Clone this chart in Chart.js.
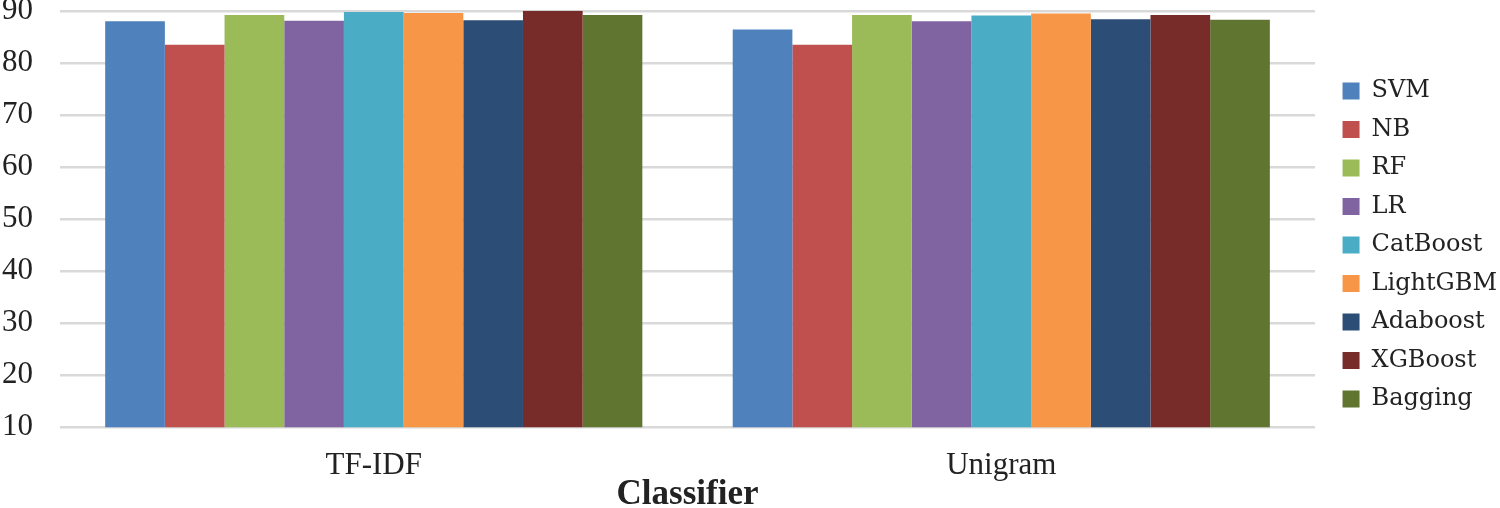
<!DOCTYPE html>
<html>
<head>
<meta charset="utf-8">
<script src="https://cdn.jsdelivr.net/npm/chart.js@4"></script>
<style>
  html, body { margin: 0; padding: 0; background: #fff; }
  #wrap { width: 1500px; height: 508px; position: relative; }
</style>
</head>
<body>
<div id="wrap"><canvas id="chart"></canvas></div>
<script>
const categories = ["TF-IDF", "Unigram"];
const svm      = [88.0, 86.4];
const nb       = [83.5, 83.5];
const rf       = [89.2, 89.2];
const lr       = [88.1, 88.0];
const catboost = [89.8, 89.1];
const lightgbm = [89.6, 89.5];
const adaboost = [88.2, 88.4];
const xgboost  = [90.0, 89.2];
const bagging  = [89.2, 88.3];

const series = [
  ["SVM", svm, "#4f81bd"],
  ["NB", nb, "#c0504d"],
  ["RF", rf, "#9bbb59"],
  ["LR", lr, "#8064a2"],
  ["CatBoost", catboost, "#4bacc6"],
  ["LightGBM", lightgbm, "#f79646"],
  ["Adaboost", adaboost, "#2c4d75"],
  ["XGBoost", xgboost, "#772c2a"],
  ["Bagging", bagging, "#5f7530"]
];

const serif = "'Liberation Serif', serif";

// nudge the legend a bit (right and up) like the original layout
const legendShift = {
  id: "legendShift",
  beforeLayout(chart) {
    const lg = chart.legend;
    if (!lg || lg._shifted) return;
    const draw = lg.draw;
    lg.draw = function (...args) {
      const c = this.ctx;
      c.save();
      c.translate(13, -9);
      draw.apply(this, args);
      c.restore();
    };
    lg._shifted = true;
  }
};

new Chart(document.getElementById("chart").getContext("2d"), {
  type: "bar",
  data: {
    labels: categories,
    datasets: series.map(([label, data, color]) => ({
      label,
      data,
      backgroundColor: color,
      borderWidth: 0,
      barPercentage: 1,
      categoryPercentage: 0.856
    }))
  },
  options: {
    responsive: true,
    maintainAspectRatio: false,
    animation: false,
    layout: { padding: { top: 0, right: 6, left: 2, bottom: 0 } },
    scales: {
      x: {
        grid: { display: false, drawTicks: false },
        border: { display: false },
        ticks: { color: "#222", font: { family: serif, size: 31 }, padding: 20 },
        title: {
          display: true,
          text: "Classifier",
          color: "#222",
          font: { family: serif, size: 35, weight: "bold", lineHeight: 0.6 },
          padding: { top: -20, bottom: 2.5 }
        }
      },
      y: {
        min: 10,
        max: 90,
        ticks: { stepSize: 10, color: "#222", font: { family: serif, size: 31, lineHeight: 0.7 }, padding: 0 },
        grid: { color: "#d9d9d9", lineWidth: 2.5, drawTicks: true, tickLength: 27, tickColor: "rgba(0,0,0,0)" },
        border: { display: false }
      }
    },
    plugins: {
      legend: {
        position: "right",
        labels: {
          color: "#222",
          font: { family: "'DejaVu Serif', serif", size: 24 },
          boxWidth: 17,
          boxHeight: 17,
          padding: 14.5
        }
      },
      tooltip: { enabled: false }
    }
  },
  plugins: [legendShift]
});
</script>
</body>
</html>
